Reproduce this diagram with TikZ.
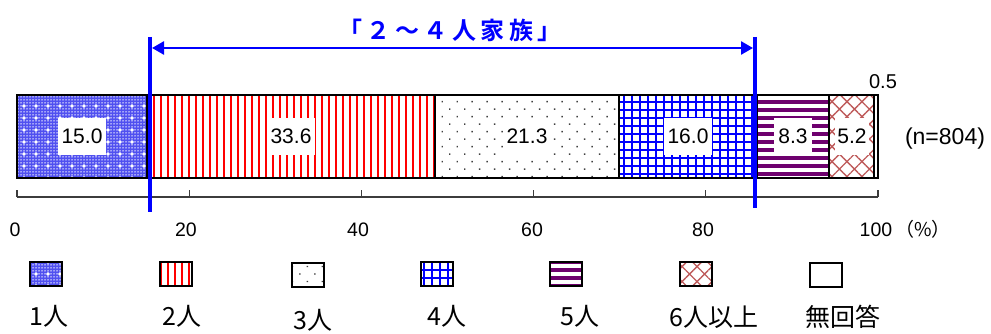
\documentclass[tikz,border=0pt]{standalone}
\usepackage{fontspec}
\setmainfont{Liberation Sans}
\newfontfamily\cjk[BoldFont={Noto Sans CJK JP Bold}]{Noto Sans CJK JP}
\usetikzlibrary{patterns.meta, arrows.meta}

\definecolor{pblue}{RGB}{0,0,255}
\definecolor{barone}{RGB}{80,80,240}
\definecolor{barfive}{RGB}{110,0,110}
\definecolor{barsix}{RGB}{190,90,90}
\definecolor{axisgray}{RGB}{60,60,60}

\tikzset{
 seg/.style={draw=black, line width=1.3pt},
 pone/.style={preaction={fill=barone},
   preaction={pattern={Dots[distance=3pt,radius=0.75pt]}, pattern color=white},
   pattern={Stars[points=4,radius=2.4pt,distance=12pt]}, pattern color=white},
 ptwo/.style={pattern={Lines[angle=90,distance=7pt,line width=2pt]}, pattern color=red},
 pthree/.style={pattern={Dots[angle=45,distance=10.6pt,radius=1pt]}, pattern color=black!75},
 pfour/.style={pattern={Hatch[angle=0,distance=8pt,line width=2.5pt]}, pattern color=pblue},
 pfive/.style={pattern={Lines[angle=0,distance=8pt,line width=3.5pt]}, pattern color=barfive},
 psix/.style={pattern={Hatch[angle=45,distance=10.6pt,line width=1.3pt]}, pattern color=barsix},
 val/.style={fill=white, inner xsep=4pt, inner ysep=11pt, font=\fontsize{21}{21}\selectfont},
 ticklab/.style={font=\fontsize{19.5}{20}\selectfont},
 leglab/.style={font=\cjk\fontsize{25}{25}\selectfont},
 legbox/.style={draw=black, line width=1.3pt, minimum width=32pt, minimum height=24pt, inner sep=0pt},
 bluel/.style={draw=pblue, line width=4pt},
}
\newcommand\tsp{\hspace{4.5pt}}

\begin{document}
\begin{tikzpicture}[x=1pt,y=-1pt]
\useasboundingbox (0,0) rectangle (991,334);

% bar segments
\path[seg,pone]   (17,95)  rectangle (147,178);
\path[seg,ptwo]   (147,95) rectangle (435,178);
\path[seg,pthree] (435,95) rectangle (619,178);
\path[seg,pfour]  (619,95) rectangle (757,178);
\path[seg,pfive]  (757,95) rectangle (829,178);
\path[seg,psix]   (829,95) rectangle (874,178);
\path[seg,fill=white] (874,95) rectangle (878,178);

% value labels
\node[val] (v1) at (82,136.5) {15.0};
\node[val] (v2) at (291,136.5) {33.6};
\node[val] (v3) at (527,136.5) {21.3};
\node[val] (v4) at (688,136.5) {16.0};
\node[val] (v5) at (793,136.5) {8.3};
\node[val, inner xsep=2pt] (v6) at (852,136.5) {5.2};
\node[font=\fontsize{20}{20}\selectfont] (v7) at (883,82) {0.5};
\node[font=\fontsize{23}{23}\selectfont] (n) at (945,139) {(n=804)};

% axis
\draw[axisgray, line width=1.2pt] (17,197) -- (878,197);
\foreach \x in {17,189.2,361.4,533.6,705.8,878}
  \draw[axisgray, line width=1.2pt] (\x,197) -- (\x,190);
\node[ticklab] (t0) at (15,230) {0};
\node[ticklab] (t20) at (186,230) {20};
\node[ticklab] (t40) at (358,230) {40};
\node[ticklab] (t60) at (532,230) {60};
\node[ticklab] (t80) at (703,230) {80};
\node[ticklab] (t100) at (876,230) {100};
\node[font=\cjk\fontsize{19}{20}\selectfont] (pct) at (923,229) {（\%）};

% 2-4 person bracket
\draw[bluel] (150,37) -- (150,212);
\draw[bluel] (755,37) -- (755,208);
\coordinate (L) at (152,48);
\coordinate (R) at (753,48);
\draw[pblue, line width=2.6pt, {Triangle[length=12pt,width=13pt]}-{Triangle[length=12pt,width=13pt]}] (L) -- (R);
\node[font=\cjk\bfseries\fontsize{24}{24}\selectfont, text=pblue] (title) at (450,30)
  {「\tsp{}２\tsp{}～\tsp{}４\tsp{}人\tsp{}家\tsp{}族\tsp{}」};

% legend
\node[legbox,pone]   (k1) at (46,274) {};
\node[legbox,ptwo]   (k2) at (176,274) {};
\node[legbox,pthree] (k3) at (308,275) {};
\node[legbox,pfour]  (k4) at (437,274) {};
\node[legbox,pfive]  (k5) at (566,274) {};
\node[legbox,psix]   (k6) at (696,274) {};
\node[legbox,fill=white] (k7) at (826,275) {};

\node[leglab] (l1) at (49,316) {1人};
\node[leglab] (l2) at (182,316) {2人};
\node[leglab] (l3) at (313,320) {3人};
\node[leglab] (l4) at (447,316) {4人};
\node[leglab] (l5) at (580,316) {5人};
\node[leglab] (l6) at (714,317) {6人以上};
\node[leglab] (l7) at (843,317) {無回答};
\end{tikzpicture}
\end{document}
